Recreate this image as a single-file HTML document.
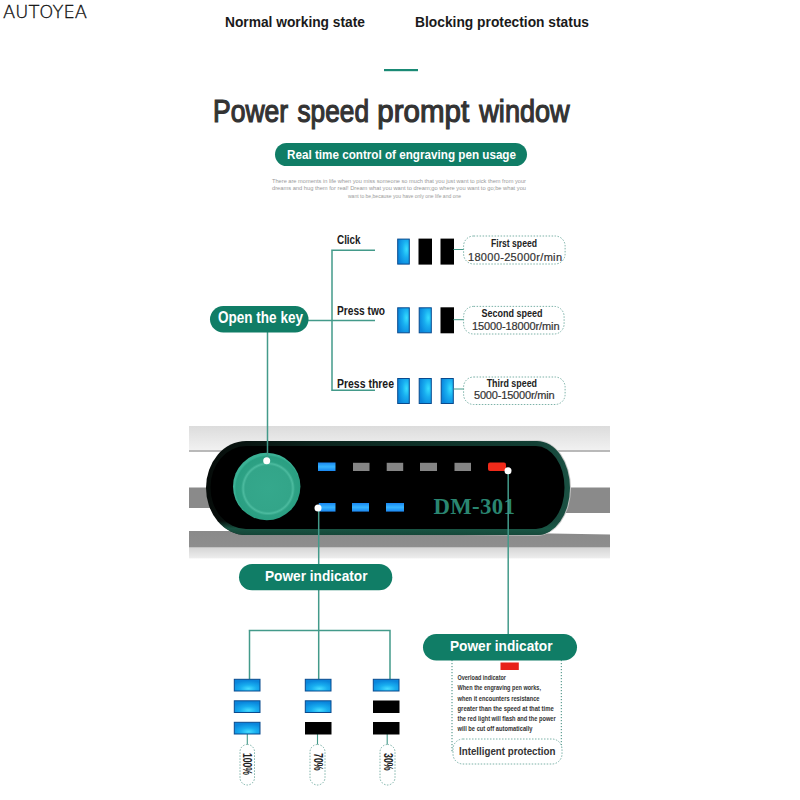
<!DOCTYPE html>
<html lang="en">
<head>
<meta charset="utf-8">
<title>Power speed prompt window</title>
<style>
html,body{margin:0;padding:0;background:#fff;}
body{width:800px;height:800px;overflow:hidden;}
svg{display:block;}
text{font-family:"Liberation Sans",sans-serif;}
.b{font-weight:bold;}
.dk{fill:#222;}
.w{fill:#fff;}
.ln{stroke:#439a8a;stroke-width:1.5;fill:none;}
.dot{stroke:#5c9f93;stroke-width:0.8;fill:#fff;stroke-dasharray:1.5 1.5;}
.pill{fill:#107d66;}
</style>
</head>
<body>
<svg width="800" height="800" viewBox="0 0 800 800">
<defs>
<radialGradient id="blueV" cx="0.75" cy="0.4" r="0.75">
<stop offset="0" stop-color="#35dcff"/><stop offset="0.45" stop-color="#18aef0"/><stop offset="1" stop-color="#0a86dc"/>
</radialGradient>
<radialGradient id="blueR" cx="0.55" cy="0.8" r="0.7">
<stop offset="0" stop-color="#45dcff"/><stop offset="0.45" stop-color="#18aef0"/><stop offset="1" stop-color="#0a86dc"/>
</radialGradient>
<linearGradient id="topband" x1="0" y1="0" x2="0" y2="1">
<stop offset="0" stop-color="#dcdcdc"/><stop offset="1" stop-color="#f3f3f3"/>
</linearGradient>
<linearGradient id="shadow" x1="0" y1="0" x2="0" y2="1">
<stop offset="0" stop-color="#8a8a8a"/><stop offset="0.56" stop-color="#8e8e8e"/><stop offset="0.6" stop-color="#d6d6d6"/><stop offset="0.95" stop-color="#ececec"/><stop offset="1" stop-color="#ffffff"/>
</linearGradient>
<radialGradient id="btn" cx="0.52" cy="0.53" r="0.5">
<stop offset="0" stop-color="#35a88c"/><stop offset="0.68" stop-color="#33a589"/><stop offset="0.74" stop-color="#4cbb9f"/><stop offset="0.8" stop-color="#2da184"/><stop offset="0.95" stop-color="#2a9f82"/><stop offset="1" stop-color="#3bb195"/>
</radialGradient>
<linearGradient id="rim" x1="0" y1="0" x2="1" y2="0">
<stop offset="0" stop-color="#060b09"/><stop offset="0.3" stop-color="#0b241d"/><stop offset="0.9" stop-color="#123f34"/><stop offset="1" stop-color="#1b5143"/>
</linearGradient>
<linearGradient id="rimo" x1="0" y1="0" x2="1" y2="0">
<stop offset="0" stop-color="#d0d0d0" stop-opacity="0"/><stop offset="0.7" stop-color="#d0d0d0" stop-opacity="0"/><stop offset="1" stop-color="#c4c4c4" stop-opacity="1"/>
</linearGradient>
<linearGradient id="led" x1="0" y1="0" x2="0" y2="1">
<stop offset="0" stop-color="#1a86f0"/><stop offset="0.5" stop-color="#35b4ff"/><stop offset="1" stop-color="#1a86f0"/>
</linearGradient>
<linearGradient id="rimv" x1="0" y1="0" x2="0" y2="1">
<stop offset="0" stop-color="#1a5a48" stop-opacity="0"/><stop offset="0.85" stop-color="#1a5a48" stop-opacity="0"/><stop offset="0.93" stop-color="#1a5a48" stop-opacity="0.9"/><stop offset="1" stop-color="#164a3b" stop-opacity="0.9"/>
</linearGradient>
<filter id="glow" x="-20%" y="-30%" width="140%" height="160%"><feGaussianBlur stdDeviation="0.6"/></filter>
</defs>
<rect width="800" height="800" fill="#fff"/>

<!-- header -->
<text x="3" y="18" font-size="17.800" style="font-family:'DejaVu Sans Light','DejaVu Sans','Liberation Sans',sans-serif;font-weight:200" textLength="84" lengthAdjust="spacingAndGlyphs" fill="#111" stroke="#111" stroke-width="0.35">AUTOYEA</text>
<text class="b" x="225" y="27" font-size="15.400" textLength="140" lengthAdjust="spacingAndGlyphs" fill="#1a1a1a">Normal working state</text>
<text class="b" x="415" y="27" font-size="15.400" textLength="174" lengthAdjust="spacingAndGlyphs" fill="#1a1a1a">Blocking protection status</text>
<rect x="384" y="69" width="34" height="2.2" fill="#1a8a75"/>
<text y="122" font-size="31" fill="#333" stroke="#333" stroke-width="1.2"><tspan x="213" textLength="75.200" lengthAdjust="spacingAndGlyphs">Power</tspan> <tspan x="297.500" textLength="71.500" lengthAdjust="spacingAndGlyphs">speed</tspan> <tspan x="377.300" textLength="91.800" lengthAdjust="spacingAndGlyphs">prompt</tspan> <tspan x="479.300" textLength="90.400" lengthAdjust="spacingAndGlyphs">window</tspan></text>
<rect class="pill" x="275" y="143" width="252" height="23" rx="11.5"/>
<text class="b w" x="287" y="158.700" font-size="13.700" textLength="229" lengthAdjust="spacingAndGlyphs">Real time control of engraving pen usage</text>
<g font-size="5.6" fill="#9a9a9a">
<text x="272" y="183" textLength="254" lengthAdjust="spacingAndGlyphs">There are moments in life when you miss someone so much that you just want to pick them from your</text>
<text x="272" y="190.3" textLength="254" lengthAdjust="spacingAndGlyphs">dreams and hug them for real! Dream what you want to dream;go where you want to go;be what you</text>
<text x="348" y="197.5" textLength="113" lengthAdjust="spacingAndGlyphs">want to be,because you have only one life and one</text>
</g>

<!-- device -->
<g id="device">
<rect x="189" y="426" width="421" height="26" fill="url(#topband)"/>
<rect x="189" y="450.300" width="421" height="1.400" fill="#a2a2a2"/>
<path d="M189 487.500H610V513H560V508H189Z" fill="#8a8a8a"/>
<path d="M189 531H400L610 534.500V559H189Z" fill="url(#shadow)"/>
<path d="M246 440H537A34 48 0 0 1 537 536H246A41 48 0 0 1 246 440Z" fill="url(#rimo)"/>
<path d="M246 441H537A33 47 0 0 1 537 535H246A40 47 0 0 1 246 441Z" fill="url(#rim)"/>
<path d="M246 441H537A33 47 0 0 1 537 535H246A40 47 0 0 1 246 441Z" fill="url(#rimv)"/>
<path d="M246 446H536A28.500 41.500 0 0 1 536 529H246A35.500 41.500 0 0 1 246 446Z" fill="#000"/>
<circle cx="266.700" cy="486.500" r="33.700" fill="url(#btn)"/>
<!-- LEDs -->
<rect x="318" y="462.500" width="17.500" height="8.500" fill="url(#led)" filter="url(#glow)"/>
<rect x="353" y="462.800" width="16.500" height="8.200" fill="#858585"/>
<rect x="386.700" y="462.800" width="16.500" height="8.200" fill="#858585"/>
<rect x="420" y="462.800" width="17" height="8.200" fill="#858585"/>
<rect x="454.500" y="462.800" width="16.500" height="8.200" fill="#858585"/>
<rect x="488" y="462.500" width="18" height="8.500" rx="2" fill="#f02a1a"/>
<rect x="318.800" y="503" width="16.700" height="8.600" fill="url(#led)" filter="url(#glow)"/>
<rect x="352" y="503" width="17" height="8.600" fill="url(#led)" filter="url(#glow)"/>
<rect x="386" y="503" width="18" height="8.600" fill="url(#led)" filter="url(#glow)"/>
<text x="433.500" y="513.700" font-size="22.800" font-weight="bold" style="font-family:'Liberation Serif',serif" textLength="81.300" lengthAdjust="spacing" fill="#2a8671">DM-301</text>
</g>

<!-- Open the key -->
<path class="ln" d="M267.500 332V460"/>
<path class="ln" d="M308 320.500H375M332 250.300V390.200M331.200 250.300H375M331.200 390.200H375"/>
<rect class="pill" x="210" y="306" width="98.500" height="26.500" rx="13.250"/>
<text class="b w" x="218" y="323" font-size="16" textLength="85" lengthAdjust="spacingAndGlyphs">Open the key</text>
<circle cx="266.700" cy="460.700" r="3.500" fill="#fff"/>

<g class="b" font-size="12.500" fill="#1a1a1a">
<text x="337" y="243.500" textLength="23.600" lengthAdjust="spacingAndGlyphs">Click</text>
<text x="337" y="315.300" textLength="48" lengthAdjust="spacingAndGlyphs">Press two</text>
<text x="337" y="387.600" textLength="57" lengthAdjust="spacingAndGlyphs">Press three</text>
</g>

<!-- row 1 -->
<g>
<rect x="397.7" y="239.1" width="11.6" height="25.0" fill="url(#blueV)" stroke="#094a8e" stroke-width="1"/>
<rect x="418.500" y="238.600" width="13.500" height="26" fill="#000"/>
<rect x="440.500" y="238.600" width="13.500" height="26" fill="#000"/>
<path class="ln" style="stroke-width:1" d="M453.500 249.500H464"/>
<rect class="dot" x="463.600" y="236" width="101.500" height="28" rx="10"/>
<text class="b" x="491" y="247" font-size="10.500" textLength="46" lengthAdjust="spacingAndGlyphs" fill="#222">First speed</text>
<text x="468" y="260.600" font-size="11" stroke="#333" stroke-width="0.2" textLength="94" lengthAdjust="spacing" fill="#333">18000-25000r/min</text>
</g>
<!-- row 2 -->
<g>
<rect x="397.7" y="307.8" width="11.6" height="25.0" fill="url(#blueV)" stroke="#094a8e" stroke-width="1"/>
<rect x="419.2" y="307.8" width="12.1" height="25.0" fill="url(#blueV)" stroke="#094a8e" stroke-width="1"/>
<rect x="440.500" y="307.300" width="13.500" height="26" fill="#000"/>
<path class="ln" style="stroke-width:1" d="M453.500 319.700H464"/>
<rect class="dot" x="463.600" y="306.400" width="100.500" height="27.600" rx="10"/>
<text class="b" x="481.500" y="317" font-size="10.500" textLength="61" lengthAdjust="spacingAndGlyphs" fill="#222">Second speed</text>
<text x="472" y="330.200" font-size="11" stroke="#333" stroke-width="0.2" textLength="87.500" lengthAdjust="spacing" fill="#333">15000-18000r/min</text>
</g>
<!-- row 3 -->
<g>
<rect x="397.7" y="378.5" width="11.6" height="25.0" fill="url(#blueV)" stroke="#094a8e" stroke-width="1"/>
<rect x="419.2" y="378.5" width="12.1" height="25.0" fill="url(#blueV)" stroke="#094a8e" stroke-width="1"/>
<rect x="441.2" y="378.5" width="12.1" height="25.0" fill="url(#blueV)" stroke="#094a8e" stroke-width="1"/>
<path class="ln" style="stroke-width:1" d="M453.500 389H464"/>
<rect class="dot" x="463.600" y="377" width="101.500" height="27.500" rx="10"/>
<text class="b" x="486.700" y="387" font-size="10.500" textLength="50.300" lengthAdjust="spacingAndGlyphs" fill="#222">Third speed</text>
<text x="474" y="399.400" font-size="11" stroke="#333" stroke-width="0.2" textLength="80.600" lengthAdjust="spacing" fill="#333">5000-15000r/min</text>
</g>

<!-- power indicator left -->
<path class="ln" d="M318.700 508V564M318.700 590V679M248.700 630.500H390.700M249.500 629.700V679M390 629.700V679"/>
<path class="ln" style="stroke-width:1.1" d="M247.300 734V744.500M317.500 734V744.500M387.200 734V744.500"/>
<circle cx="318" cy="508" r="3.500" fill="#fff"/>
<rect class="pill" x="239" y="564" width="153.300" height="26.300" rx="13.150"/>
<text class="b w" x="265" y="580.500" font-size="15.500" textLength="102.500" lengthAdjust="spacingAndGlyphs">Power indicator</text>

<g>
<rect x="234.3" y="679.3" width="25.7" height="11.7" fill="url(#blueR)" stroke="#094a8e" stroke-width="1"/>
<rect x="234.3" y="700.8" width="25.7" height="11.7" fill="url(#blueR)" stroke="#094a8e" stroke-width="1"/>
<rect x="234.3" y="722.3" width="25.7" height="11.7" fill="url(#blueR)" stroke="#094a8e" stroke-width="1"/>
<rect x="305.3" y="679.3" width="25.7" height="11.7" fill="url(#blueR)" stroke="#094a8e" stroke-width="1"/>
<rect x="305.3" y="700.8" width="25.7" height="11.7" fill="url(#blueR)" stroke="#094a8e" stroke-width="1"/>
<rect x="305" y="722" width="26.500" height="12.500" fill="#000"/>
<rect x="373.3" y="679.3" width="25.7" height="11.7" fill="url(#blueR)" stroke="#094a8e" stroke-width="1"/>
<rect x="373" y="700.500" width="26.500" height="12.500" fill="#000"/>
<rect x="373" y="722" width="26.500" height="12.500" fill="#000"/>
</g>
<rect class="dot" x="240" y="744.500" width="14.500" height="40.500" rx="7.200"/>
<rect class="dot" x="310" y="744.500" width="15" height="40.500" rx="7.500"/>
<rect class="dot" x="380" y="744.500" width="15" height="40.500" rx="7.500"/>
<g class="b" font-size="12" fill="#222">
<text transform="translate(243 753) rotate(90)" textLength="22" lengthAdjust="spacingAndGlyphs">100%</text>
<text transform="translate(313.800 753) rotate(90)" textLength="17.700" lengthAdjust="spacingAndGlyphs">70%</text>
<text transform="translate(383.800 753) rotate(90)" textLength="17.700" lengthAdjust="spacingAndGlyphs">30%</text>
</g>

<!-- power indicator right -->
<path class="ln" d="M508.200 471V634"/>
<circle cx="508" cy="470.700" r="3.500" fill="#fff"/>
<path d="M452 660V752M561.300 660V752" fill="none" stroke="#3f8a7c" stroke-width="1" stroke-dasharray="1.200 1.800"/>
<rect class="pill" x="423" y="634" width="154" height="26.500" rx="13.250"/>
<text class="b w" x="450" y="650.800" font-size="15.500" textLength="102.500" lengthAdjust="spacingAndGlyphs">Power indicator</text>
<rect x="500.500" y="662.500" width="18.300" height="7.500" fill="#e8221a"/>
<g class="b" font-size="6.800" fill="#333">
<text x="457.500" y="680" textLength="48.500" lengthAdjust="spacingAndGlyphs">Overload indicator</text>
<text x="457.500" y="690.300" textLength="83.500" lengthAdjust="spacingAndGlyphs">When the engraving pen works,</text>
<text x="457.500" y="700.500" textLength="82" lengthAdjust="spacingAndGlyphs">when it encounters resistance</text>
<text x="457.500" y="710.700" textLength="96.200" lengthAdjust="spacingAndGlyphs">greater than the speed at that time</text>
<text x="457.500" y="721" textLength="98.200" lengthAdjust="spacingAndGlyphs">the red light will flash and the power</text>
<text x="457.500" y="730.700" textLength="75" lengthAdjust="spacingAndGlyphs">will be cut off automatically</text>
</g>
<rect class="dot" x="453" y="739" width="109" height="25" rx="10"/>
<text class="b" x="459" y="754.600" font-size="11.500" textLength="96.400" lengthAdjust="spacingAndGlyphs" fill="#333">Intelligent protection</text>
</svg>
</body>
</html>
